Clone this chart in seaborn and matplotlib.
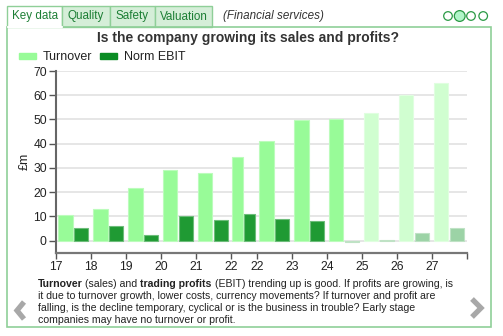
import numpy as np
import pandas as pd
import matplotlib
matplotlib.use("Agg")
import matplotlib.pyplot as plt
import seaborn as sns
from matplotlib.transforms import Affine2D
from matplotlib.patches import Rectangle, Circle, Patch
from matplotlib.lines import Line2D

# ---------------- data ----------------
period_start = ["2017-01-01", "2018-01-01", "2019-01-01", "2020-01-01", "2021-01-01",
                "2022-01-01", "2022-10-01", "2023-10-01", "2024-10-01", "2025-10-01",
                "2026-10-01", "2027-10-01"]
last_end = "2028-10-01"
turnover = [10.6, 13.2, 21.9, 29.0, 28.1, 34.5, 41.0, 49.9, 50.2, 52.8, 60.2, 65.2]
norm_ebit = [5.4, 6.2, 2.2, 10.3, 8.4, 10.9, 8.8, 8.0, -0.4, 0.2, 3.0, 5.0]
turnover_forecast = [False] * 9 + [True] * 3
ebit_forecast = [False] * 8 + [True] * 4
y_ticks = [0, 10, 20, 30, 40, 50, 60, 70]
series_names = ["Turnover", "Norm EBIT"]
tabs = ["Key data", "Quality", "Safety", "Valuation"]
title = "Is the company growing its sales and profits?"
footer = [
    [("Turnover", True), ("(sales) and", False), ("trading profits", True),
     ("(EBIT) trending up is good. If profits are growing, is", False)],
    [("it due to turnover growth, lower costs, currency movements? If turnover and profit are", False)],
    [("falling, is the decline temporary, cyclical or is the business in trouble? Early stage", False)],
    [("companies may have no turnover or profit.", False)],
]

# ---------------- style ----------------
sns.set_theme(style="white")
plt.rcParams["font.family"] = ["Liberation Sans", "DejaVu Sans"]

C_TURN = "#98fb98"
C_TURN_FC = "#d0fed0"
C_EBIT = "#1f9a33"
C_EBIT_FC = "#9cd3a6"
C_EBIT_LEG = "#0b8c24"
GREEN_BORDER = "#8fcf98"
TAB_FILL = "#d5eed8"
TAB_TEXT = "#1d7f35"

W, H = 503, 336
fig = plt.figure(figsize=(W / 100, H / 100), dpi=100)
T = Affine2D().scale(1, -1).translate(0, H)  # pixel coords, origin top-left


def lighten(c, f):
    r, g, b = matplotlib.colors.to_rgb(c)
    return (r + (1 - r) * f, g + (1 - g) * f, b + (1 - b) * f)


def to_year(d):
    d = pd.Timestamp(d)
    n = 366 if d.is_leap_year else 365
    return d.year + (d.dayofyear - 1) / n


starts = np.array([to_year(d) for d in period_start])
ends = np.append(starts[1:], to_year(last_end))
L = ends - starts

ax = fig.add_axes([56 / W, (H - 252.7) / H, (466.7 - 56) / W, (252.7 - 71) / H])

tc = [C_TURN_FC if f else C_TURN for f in turnover_forecast]
ec = [C_EBIT_FC if f else C_EBIT for f in ebit_forecast]
ax.bar(starts + 0.065 * L, turnover, width=0.41 * L, align="edge", color=tc,
       edgecolor=[lighten(c, 0.35) for c in tc], linewidth=0.8, zorder=3)
ax.bar(starts + 0.515 * L, norm_ebit, width=0.41 * L, align="edge", color=ec,
       edgecolor=[lighten(c, 0.35) for c in ec], linewidth=0.8, zorder=3)

ax.set_xlim(starts[0], ends[-1])
ax.set_ylim(-5, 70)
ax.set_yticks(y_ticks)
ax.set_yticklabels([str(v) for v in y_ticks])
ax.set_xticks(list(starts) + [ends[-1]])
ax.set_xticklabels([pd.Timestamp(d).strftime("%y") for d in period_start] + [""])
ax.grid(axis="y", color="#e6e6e6", lw=1.4, zorder=0)
ax.grid(axis="x", visible=False)
ax.set_axisbelow(True)
ax.tick_params(axis="y", direction="out", length=4.8, width=1, color="#555555",
               labelsize=8.7, labelcolor="#222222", pad=1.8, left=True)
ax.tick_params(axis="x", direction="out", length=4, width=1, color="#555555",
               labelsize=8.7, labelcolor="#222222", pad=2, bottom=True)
for s in ["top", "right"]:
    ax.spines[s].set_visible(False)
ax.spines["left"].set_color("#666666")
ax.spines["left"].set_linewidth(1.5)
ax.spines["bottom"].set_color("#777777")
ax.spines["bottom"].set_linewidth(1.6)
ax.set_facecolor("white")

fig.text(25, 161, "£m", transform=T, rotation=90, ha="center", va="center",
         fontsize=9, color="#222222")

# legend
handles = [Patch(color=C_TURN), Patch(color=C_EBIT_LEG)]
ax.legend(handles, series_names, ncol=2, frameon=False, loc="center left",
          bbox_to_anchor=(19, 57.3), bbox_transform=T, handlelength=1.36,
          handleheight=0.4, handletextpad=0.55, columnspacing=0.6, borderpad=0,
          borderaxespad=0, fontsize=9, labelcolor="#222222")

# title
fig.text(248, 38, title, transform=T, ha="center", va="center", fontsize=10,
         fontweight="bold", color="#333333")

# tabs and frame
tab_edges = [7, 62.3, 110, 155, 212.3]
for i, name in enumerate(tabs):
    x0, x1 = tab_edges[i], tab_edges[i + 1]
    fc = "white" if i == 0 else TAB_FILL
    fig.add_artist(Rectangle((x0, 6), x1 - x0, 21.3, transform=T, facecolor=fc,
                             edgecolor=GREEN_BORDER, lw=1))
    fig.text((x0 + x1) / 2, 16.5, name, transform=T, ha="center", va="center",
             fontsize=8.4, color=TAB_TEXT)
fig.add_artist(Rectangle((7, 27.3), 484, 300, transform=T, facecolor="none",
                         edgecolor=GREEN_BORDER, lw=1.2))
fig.add_artist(Line2D([7.8, 61.6], [27.3, 27.3], transform=T, color="white", lw=1.6))
fig.text(223, 16.5, "(Financial services)", transform=T, ha="left", va="center",
         fontsize=8.4, style="italic", color="#333333")

# circles
for cx, r, filled in [(448, 4.3, False), (459.7, 5.4, True), (471, 4.3, False), (483.2, 4.3, False)]:
    fig.add_artist(Circle((cx, 16), r, transform=T, facecolor="#b0f5c8" if filled else "white",
                          edgecolor="#2a9a45", lw=0.9))

# arrows
fig.add_artist(Line2D([24, 17, 24], [302, 310.5, 319], transform=T, color="#a8a8a8",
                      lw=3.8, solid_joinstyle="miter", solid_capstyle="butt"))
fig.add_artist(Line2D([472, 481, 472], [299, 308, 317], transform=T, color="#a8a8a8",
                      lw=3.8, solid_joinstyle="miter", solid_capstyle="butt"))

# footer text with mixed bold
renderer = fig.canvas.get_renderer()
FS = 7.6


def text_width(s, bold):
    t = fig.text(0, 0, s + "|", fontsize=FS, fontweight="bold" if bold else "normal")
    t2 = fig.text(0, 0, "|", fontsize=FS, fontweight="bold" if bold else "normal")
    w = t.get_window_extent(renderer).width - t2.get_window_extent(renderer).width
    t.remove()
    t2.remove()
    return w


space_w = text_width(" ", False)
for li, parts in enumerate(footer):
    x = 37.7
    y = 286.7 + 12.0 * li
    for seg, bold in parts:
        fig.text(x, y, seg, transform=T, ha="left", va="baseline", fontsize=FS,
                 fontweight="bold" if bold else "normal", color="#222222")
        x += text_width(seg, bold) + space_w

fig.savefig("out.png", dpi=100, facecolor="white")
